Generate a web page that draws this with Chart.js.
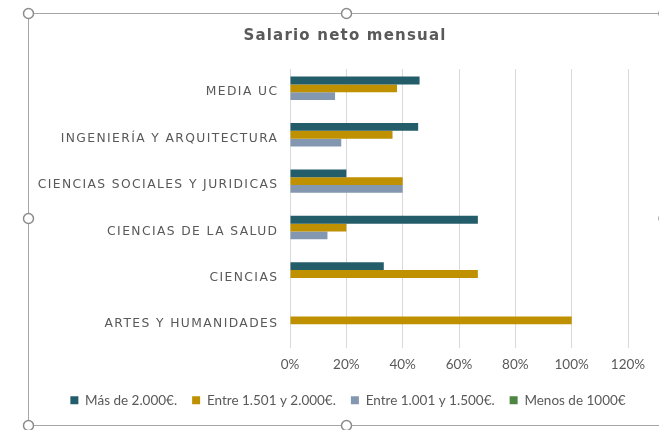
<!DOCTYPE html>
<html>
<head>
<meta charset="utf-8">
<script src="https://cdn.jsdelivr.net/npm/chart.js@4.4.1/dist/chart.umd.min.js"></script>
<style>
  html, body { margin: 0; padding: 0; background: #fff; }
  #wrap { position: relative; width: 659px; height: 430px; overflow: hidden; }
  canvas { position: absolute; left: 0; top: 0; }
</style>
</head>
<body>
<div id="wrap"><canvas id="c" width="659" height="430"></canvas></div>
<script>
const categories = ["MEDIA UC", "INGENIERÍA Y ARQUITECTURA", "CIENCIAS SOCIALES Y JURIDICAS", "CIENCIAS DE LA SALUD", "CIENCIAS", "ARTES Y HUMANIDADES"];
const seriesNames = ["Más de 2.000€.", "Entre 1.501 y 2.000€.", "Entre 1.001 y 1.500€.", "Menos de 1000€"];
const mas2000 = [46, 45.5, 20, 66.7, 33.3, 0];
const entre1501 = [38, 36.4, 40, 20, 66.7, 100];
const entre1001 = [16, 18.2, 40, 13.3, 0, 0];
const menos1000 = [0, 0, 0, 0, 0, 0];
const xTicks = [0, 20, 40, 60, 80, 100, 120];
const titleText = "Salario neto mensual";

const colors = ["#245D6A", "#BF9000", "#8497B0", "#4E8542"];
const seriesValues = [mas2000, entre1501, entre1001, menos1000];

function withSpacing(obj, method, spacing) {
  if (!obj || obj['_sp_' + method]) return;
  const orig = obj[method];
  obj[method] = function (...args) {
    const ctx = this.ctx;
    ctx.save();
    ctx.letterSpacing = spacing;
    const r = orig.apply(this, args);
    ctx.restore();
    return r;
  };
  obj['_sp_' + method] = true;
}

const spacingPlugin = {
  id: 'spacing',
  afterLayout(chart) {
    // centre legend and title under the whole frame rather than the padded box
    if (chart.legend) { chart.legend.left += 19; chart.legend.right += 19; }
    if (chart.titleBlock) { chart.titleBlock.left += 16; chart.titleBlock.right += 16; }
  },
  beforeDraw(chart) {
    withSpacing(chart.scales.y, 'drawLabels', '1.4px');
    withSpacing(chart.titleBlock, 'draw', '1.2px');
  }
};

const framePlugin = {
  id: 'frame',
  afterDraw(chart) {
    const ctx = chart.ctx;
    ctx.save();
    ctx.strokeStyle = '#a6a6a6';
    ctx.lineWidth = 1;
    ctx.beginPath();
    ctx.moveTo(28.5, 13.5); ctx.lineTo(659, 13.5);
    ctx.moveTo(28.5, 13.5); ctx.lineTo(28.5, 425.5);
    ctx.moveTo(28.5, 425.5); ctx.lineTo(659, 425.5);
    ctx.stroke();
    const handles = [[28.5,13.5],[346.5,13.5],[664,13.5],[28.5,218.5],[664,218.5],[28.5,425.5],[346.5,425.5]];
    handles.forEach(([x,y]) => {
      ctx.beginPath();
      ctx.arc(x, y, 5, 0, Math.PI*2);
      ctx.fillStyle = '#fff';
      ctx.fill();
      ctx.strokeStyle = '#8c8c8c';
      ctx.lineWidth = 1.5;
      ctx.stroke();
    });
    ctx.restore();
  }
};

new Chart(document.getElementById('c'), {
  type: 'bar',
  data: {
    labels: categories,
    datasets: seriesNames.map((n, i) => ({
      label: n,
      data: seriesValues[i],
      backgroundColor: colors[i],
      borderWidth: 0,
      categoryPercentage: 0.674,
      barPercentage: 1.0
    }))
  },
  options: {
    indexAxis: 'y',
    responsive: false,
    animation: false,
    layout: { padding: { left: 30, right: 31, top: 0, bottom: 13 } },
    plugins: {
      title: {
        display: true,
        text: titleText,
        color: '#595959',
        font: { family: 'DejaVu Sans', size: 15, weight: 'bold' },
        padding: { top: 27, bottom: 24 }
      },
      legend: {
        position: 'bottom',
        labels: {
          color: '#595959',
          font: { family: 'Lato', size: 13.5 },
          boxWidth: 8,
          boxHeight: 8,
          padding: 15
        }
      },
      tooltip: { enabled: false }
    },
    scales: {
      x: {
        min: 0, max: 120,
        afterBuildTicks(scale) { scale.ticks = xTicks.map(v => ({ value: v })); },
        afterFit(scale) { scale.height = 31; },
        ticks: {
          color: '#595959',
          font: { family: 'Lato', size: 13.5 },
          padding: 9,
          callback: v => v + '%'
        },
        grid: { color: '#d9d9d9', drawTicks: false },
        border: { display: false }
      },
      y: {
        afterFit(scale) { scale.width = 260; },
        ticks: {
          color: '#595959',
          font: { family: 'DejaVu Sans', size: 12.3 },
          padding: 11.6
        },
        grid: { display: false, drawTicks: false },
        border: { display: false }
      }
    }
  },
  plugins: [spacingPlugin, framePlugin]
});
</script>
</body>
</html>
